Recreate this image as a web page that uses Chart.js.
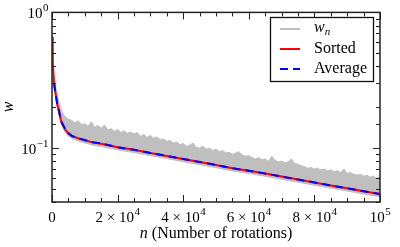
<!DOCTYPE html>
<html><head><meta charset="utf-8">
<script src="https://cdn.jsdelivr.net/npm/chart.js@4/dist/chart.umd.min.js"></script>
<style>html,body{margin:0;padding:0;background:#fff}#wrap{width:400px;height:247px;position:relative}</style>
</head><body><div id="wrap"><canvas id="c"></canvas></div>
<script>
// ---- data ----
const nSorted = [0,150,300,600,1000,1600,2000,2800,4000,5000,6000,8000,10000,12500,15000,
  20000,25000,30000,35000,40000,45000,50000,55000,60000,65000,70000,75000,80000,85000,90000,95000,100000];
const sortedW = [0.66,0.55,0.43,0.30,0.26,0.21,0.192,0.157,0.137,0.128,0.123,0.118,0.114,0.11,0.1075,
  0.1015,0.097,0.092,0.0875,0.083,0.079,0.075,0.071,0.068,0.0648,0.0616,0.0586,0.0557,0.053,0.0505,0.048,0.0458];
const bandLowW = [0.63,0.525,0.41,0.287,0.248,0.2,0.183,0.15,0.131,0.122,0.1175,0.1127,0.1089,0.105,0.1027,
  0.097,0.0926,0.0879,0.0836,0.0793,0.0754,0.0716,0.0678,0.0649,0.0619,0.0588,0.056,0.0532,0.0506,0.0482,0.0458,0.0437];
const nAvg = [650,1000,1600,2000,2800,4000,5000,6000,8000,10000,12500,15000,
  20000,25000,30000,35000,40000,45000,50000,55000,60000,65000,70000,75000,80000,85000,90000,95000,100000];
const avgW = [0.30,0.26,0.212,0.193,0.158,0.138,0.129,0.123,0.118,0.1145,0.1105,0.108,
  0.1015,0.097,0.092,0.0875,0.083,0.079,0.075,0.071,0.068,0.0648,0.0616,0.0586,0.0557,0.053,0.0505,0.048,0.0458];
// noisy w_n band, upper edge (n in thousands)
const nUpperK = [0,0.5,1,1.5,2,2.5,3,4,5,6,7,8,9,10,11,12,13,14,15,16,17,18,19,20,21,22,23,24,25,26,27,28,29,30,
  31,32,33,34,35,36,37,38,39,40,41,42,43,44,45,46,47,48,49,50,51,52,53,54,55,56,57,58,59,60,61,62,63,64,65,66,67,68,69,70,
  71,72,73,74,75,76,77,78,79,80,81,82,83,84,85,86,87,88,89,90,91,92,93,94,95,96,97,98,99,100];
const upperW = [0.67,0.36,0.29,0.25,0.225,0.2,0.185,0.17,0.163,0.16,0.153,0.159,0.149,0.151,0.145,0.156,0.142,0.147,0.14,0.148,
  0.136,0.139,0.133,0.137,0.13,0.134,0.128,0.131,0.127,0.13,0.122,0.126,0.12,0.124,
  0.118,0.121,0.115,0.117,0.112,0.114,0.109,0.111,0.106,0.108,0.103,0.105,0.109,0.101,0.1,0.103,0.098,0.1,0.096,0.098,
  0.094,0.096,0.092,0.093,0.09,0.092,0.094,0.089,0.087,0.088,0.085,0.083,0.085,0.082,0.083,0.08,0.087,0.081,0.079,0.08,
  0.078,0.079,0.083,0.077,0.076,0.074,0.073,0.071,0.072,0.07,0.071,0.069,0.07,0.068,0.069,0.067,0.068,0.066,0.07,0.065,
  0.066,0.064,0.063,0.064,0.062,0.063,0.061,0.062,0.06,0.061];
const xTickVals = [0,20000,40000,60000,80000,100000];
const xTickLabels = ['0','2 × 10^4','4 × 10^4','6 × 10^4','8 × 10^4','10^5'];
const yTickVals = [1,0.1];
const yTickLabels = ['10^0','10^−1'];
const seriesNames = ['w_n','Sorted','Average'];
const xTitle = ['n',' (Number of rotations)'];
const yTitle = 'w';

const FONT = '"Liberation Serif","DejaVu Serif",serif';
const pts = (xs,ys,k)=>xs.map((x,i)=>({x:x*(k||1), y:ys[i]}));
const near = (a,b)=>Math.abs(a-b) <= 1e-9*Math.max(1,Math.abs(b));
const yIdx = v => yTickVals.findIndex(t=>Math.abs(v/t-1)<1e-6);

function supLabel(ctx, text, x, y, align){
  const [b,s] = text.split('^');
  ctx.font='15px '+FONT; const wb=ctx.measureText(b).width;
  ctx.font='11px '+FONT; const ws=s?ctx.measureText(s).width:0;
  const total=wb+ws;
  let sx = align==='center' ? x-total/2 : x-total;
  ctx.textAlign='left'; ctx.textBaseline='middle';
  ctx.font='15px '+FONT; ctx.fillText(b,sx,y);
  if(s){ ctx.font='11px '+FONT; ctx.fillText(s,sx+wb+0.5,y-6); }
}

const decor = {
  id:'decor',
  afterDatasetsDraw(chart){
    const {ctx, chartArea:a, scales:{x,y}} = chart;
    ctx.save();
    ctx.strokeStyle='#222'; ctx.lineWidth=1;
    const seg=(x1,y1,x2,y2)=>{ctx.beginPath();ctx.moveTo(x1,y1);ctx.lineTo(x2,y2);ctx.stroke();};
    x.ticks.forEach(t=>{
      const px=Math.round(x.getPixelForValue(t.value))+0.5;
      const L = xTickVals.some(v=>near(v,t.value)) ? 7 : 4;
      seg(px,a.bottom,px,a.bottom-L); seg(px,a.top,px,a.top+L);
    });
    y.ticks.forEach(t=>{
      const py=Math.round(y.getPixelForValue(t.value))+0.5;
      const L = yIdx(t.value)>=0 ? 7 : 4;
      seg(a.left,py,a.left+L,py); seg(a.right,py,a.right-L,py);
    });
    ctx.lineWidth=1.5;
    ctx.strokeRect(a.left,a.top,a.right-a.left,a.bottom-a.top);
    // tick labels
    ctx.fillStyle='#000';
    xTickVals.forEach((v,i)=>supLabel(ctx,xTickLabels[i],x.getPixelForValue(v),218,'center'));
    yTickVals.forEach((v,i)=>supLabel(ctx,yTickLabels[i],48,y.getPixelForValue(v)+2,'right'));
    // legend
    const lx=270.5, ly=17.5, lw=103, lh=64;
    ctx.fillStyle='#fff'; ctx.fillRect(lx,ly,lw,lh);
    ctx.strokeStyle='#111'; ctx.lineWidth=1.3; ctx.strokeRect(lx,ly,lw,lh);
    const ds = chart.data.datasets;
    const rows=[{d:ds[2],yy:29},{d:ds[1],yy:49},{d:ds[0],yy:69}];
    rows.forEach((r,i)=>{
      ctx.beginPath(); ctx.strokeStyle=r.d.borderColor; ctx.lineWidth=2;
      ctx.setLineDash(r.d.borderDash||[]);
      ctx.moveTo(280,r.yy); ctx.lineTo(300,r.yy); ctx.stroke(); ctx.setLineDash([]);
      ctx.fillStyle='#000'; ctx.textBaseline='middle'; ctx.textAlign='left';
      const name=seriesNames[i];
      if(name.includes('_')){
        const [b,s]=name.split('_');
        ctx.font='italic 16px '+FONT; ctx.fillText(b,314,r.yy-1);
        const w=ctx.measureText(b).width;
        ctx.font='italic 11px '+FONT; ctx.fillText(s,314+w,r.yy+3);
      } else {
        ctx.font='16px '+FONT; ctx.fillText(name,314,r.yy);
      }
    });
    // axis titles
    ctx.fillStyle='#000'; ctx.textBaseline='middle'; ctx.textAlign='left';
    ctx.font='italic 16px '+FONT; const w1=ctx.measureText(xTitle[0]).width;
    ctx.font='16px '+FONT; const w2=ctx.measureText(xTitle[1]).width;
    const cx=(a.left+a.right)/2, sx=cx-(w1+w2)/2;
    ctx.font='italic 16px '+FONT; ctx.fillText(xTitle[0],sx,234);
    ctx.font='16px '+FONT; ctx.fillText(xTitle[1],sx+w1,234);
    ctx.translate(9,107); ctx.rotate(-Math.PI/2);
    ctx.textAlign='center'; ctx.font='italic 16px '+FONT; ctx.fillText(yTitle,0,0);
    ctx.restore();
  }
};

new Chart(document.getElementById('c'),{
  type:'line',
  data:{datasets:[
    {label:seriesNames[2], data:pts(nAvg,avgW), borderColor:'#0000ff', borderWidth:2, borderDash:[8,5], pointRadius:0, fill:false, order:0, tension:0},
    {label:seriesNames[1], data:pts(nSorted,sortedW), borderColor:'#ff0000', borderWidth:2, pointRadius:0, fill:false, order:1, tension:0},
    {label:seriesNames[0], data:pts(nUpperK,upperW,1000), borderColor:'#bfbfbf', backgroundColor:'#bfbfbf', borderWidth:1, pointRadius:0, fill:3, order:2, tension:0},
    {label:'band', data:pts(nSorted,bandLowW), borderColor:'#bfbfbf', borderWidth:1, pointRadius:0, fill:false, order:3, tension:0}
  ]},
  options:{
    responsive:true, maintainAspectRatio:false, animation:false, devicePixelRatio:1,
    layout:{padding:{top:10,right:20,left:0,bottom:0}},
    plugins:{legend:{display:false}, tooltip:{enabled:false}},
    scales:{
      x:{type:'linear', min:0, max:100000,
        grid:{display:false, drawTicks:false}, border:{display:false},
        ticks:{stepSize:5000, autoSkip:false, maxRotation:0, padding:7, color:'#000', font:{family:FONT,size:14},
          callback:()=>''},
        afterFit:s=>{s.height=45;}},
      y:{type:'logarithmic', min:0.04, max:1,
        grid:{display:false, drawTicks:false}, border:{display:false},
        ticks:{autoSkip:false, padding:4, color:'#000', font:{family:FONT,size:14},
          callback:()=>''},
        afterFit:s=>{s.width=52;}}
    }
  },
  plugins:[decor]
});
</script></body></html>
